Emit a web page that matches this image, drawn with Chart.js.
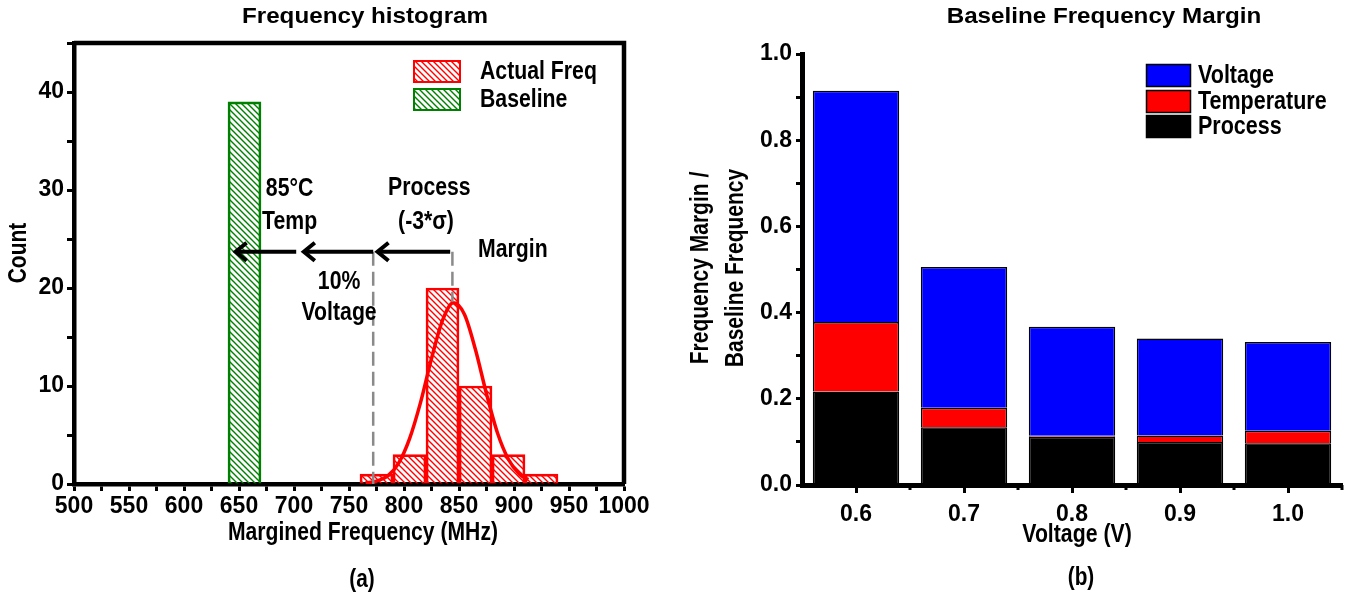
<!DOCTYPE html>
<html>
<head>
<meta charset="utf-8">
<title>Frequency margin</title>
<script src="https://cdn.jsdelivr.net/npm/chart.js@4.4.1/dist/chart.umd.min.js"></script>
<style>
  html, body { margin: 0; padding: 0; background: #fff; }
  #wrap { position: relative; width: 1351px; height: 601px; overflow: hidden; }
  canvas { position: absolute; top: 0; }
  #histo { left: 0; }
  #margin { left: 660px; }
</style>
</head>
<body>
<div id="wrap">
  <canvas id="histo" width="660" height="601"></canvas>
  <canvas id="margin" width="691" height="601"></canvas>
</div>
<script>
// ---- (a) frequency histogram ----
const binCenters = [775, 805, 835, 865, 895, 925];   // MHz, 30 MHz wide bins
const actualCounts = [1, 3, 20, 10, 3, 1];
const baselineCenters = [655];
const baselineCounts = [39];
// fitted curve
const fitFreq  = [765, 775, 785, 795, 805, 815, 825, 835, 845, 855, 865, 875, 885, 895, 905, 913];
const fitCount = [0.1, 0.3, 0.8, 2.1, 4.6, 8.3, 12.8, 16.7, 18.5, 17.3, 13.7, 9.2, 5.2, 2.5, 1.0, 0.45];
const freqTicks = [500, 525, 550, 575, 600, 625, 650, 675, 700, 725, 750, 775, 800, 825, 850, 875, 900, 925, 950, 975, 1000];
const countTicks = [0, 5, 10, 15, 20, 25, 30, 35, 40, 45];
// annotations (MHz / count)
const arrowLevel = 23.7;
const arrowFrom = [842, 772, 702];
const arrowTo = [775, 708, 646];
const dashFreq = [772, 844];
const dashBottom = [0, 18.6];
const notes = ['85°C', 'Temp', 'Process', '(-3*σ)', 'Margin', '10%', 'Voltage'];
const noteFreq = [696, 696, 823, 820, 899, 741, 741];
const noteCount = [30.1, 26.7, 30.2, 26.7, 23.9, 20.6, 17.4];

// ---- (b) baseline frequency margin ----
const voltages = ['0.6', '0.7', '0.8', '0.9', '1.0'];
const processMargin = [0.217, 0.134, 0.112, 0.100, 0.097];
const tempMargin = [0.161, 0.045, 0.002, 0.015, 0.029];
const voltageMargin = [0.537, 0.327, 0.253, 0.225, 0.206];
const marginTicks = [0, 0.1, 0.2, 0.3, 0.4, 0.5, 0.6, 0.7, 0.8, 0.9, 1.0];

const NARROW = "'Liberation Sans Narrow', 'Arial Narrow', sans-serif";
const tickFont = { family: NARROW, size: 23, weight: 'bold' };

function hatch(color) {
  const c = document.createElement('canvas');
  c.width = 6; c.height = 6;
  const g = c.getContext('2d');
  g.strokeStyle = color; g.lineWidth = 1.4;
  g.beginPath();
  g.moveTo(-1, -1); g.lineTo(7, 7);
  g.moveTo(-1, 5); g.lineTo(1, 7);
  g.moveTo(5, -1); g.lineTo(7, 1);
  g.stroke();
  return g.createPattern(c, 'repeat');
}
const redHatch = hatch('#ff0000');
const greenHatch = hatch('#008000');

// bold Arial-like text, squeezed/stretched horizontally by sx
function txt(ctx, s, x, y, size, sx, align = 'center', rot = 0) {
  ctx.save();
  ctx.translate(x, y);
  if (rot) ctx.rotate(rot);
  ctx.scale(sx, 1);
  ctx.font = `bold ${size}px 'Liberation Sans', Arial, sans-serif`;
  ctx.fillStyle = '#000';
  ctx.textAlign = align;
  ctx.textBaseline = 'middle';
  ctx.fillText(s, 0, 0);
  ctx.restore();
}

const histoDecor = {
  id: 'histoDecor',
  afterDatasetsDraw(chart) {
    const { ctx, scales: { x, y } } = chart;
    const ay = y.getPixelForValue(arrowLevel);
    ctx.save();
    ctx.strokeStyle = '#8a8a8a'; ctx.lineWidth = 2.5; ctx.setLineDash([14, 6]);
    dashFreq.forEach((f, i) => {
      const px = x.getPixelForValue(f);
      ctx.beginPath(); ctx.moveTo(px, ay); ctx.lineTo(px, y.getPixelForValue(dashBottom[i])); ctx.stroke();
    });
    ctx.setLineDash([]);
    ctx.strokeStyle = '#000'; ctx.lineWidth = 4;
    arrowFrom.forEach((f, i) => {
      const x0 = x.getPixelForValue(f), x1 = x.getPixelForValue(arrowTo[i]);
      ctx.beginPath(); ctx.moveTo(x0, ay); ctx.lineTo(x1 + 2, ay); ctx.stroke();
      ctx.beginPath(); ctx.moveTo(x1 + 12, ay - 9); ctx.lineTo(x1 + 1, ay); ctx.lineTo(x1 + 12, ay + 9); ctx.stroke();
    });
    notes.forEach((s, i) => txt(ctx, s, x.getPixelForValue(noteFreq[i]), y.getPixelForValue(noteCount[i]), 25, 0.85));
    ctx.restore();
  },
  afterDraw(chart) {
    const { ctx, chartArea: a } = chart;
    ctx.save();
    ctx.strokeStyle = '#000'; ctx.lineWidth = 4.5;
    ctx.beginPath(); ctx.moveTo(a.left, a.top); ctx.lineTo(a.right, a.top); ctx.lineTo(a.right, a.bottom); ctx.stroke();
    txt(ctx, 'Frequency histogram', 365, 17, 22, 1.1);
    txt(ctx, 'Count', 19, 253, 25, 0.84, 'center', -Math.PI / 2);
    txt(ctx, 'Margined Frequency (MHz)', 363, 533, 25, 0.845);
    txt(ctx, '(a)', 362, 580, 26, 0.8);
    [['Actual Freq', redHatch, '#ff0000', 60], ['Baseline', greenHatch, '#008000', 88]].forEach(([name, fill, col, top]) => {
      ctx.fillStyle = fill; ctx.fillRect(413, top, 48, 23);
      ctx.strokeStyle = col; ctx.lineWidth = 2; ctx.strokeRect(414, top + 1, 46, 21);
      txt(ctx, name, 480, top + 12, 25, 0.85, 'left');
    });
    ctx.restore();
  }
};

new Chart(document.getElementById('histo'), {
  type: 'bar',
  data: {
    datasets: [
      {
        type: 'line', label: 'fit', xAxisID: 'x', yAxisID: 'y', order: 0,
        data: fitFreq.map((f, i) => ({ x: f, y: fitCount[i] })),
        borderColor: '#ff0000', borderWidth: 3.5, pointRadius: 0, fill: false,
        cubicInterpolationMode: 'monotone'
      },
      {
        label: 'Actual Freq', xAxisID: 'xb', yAxisID: 'y', order: 1, grouped: false,
        data: binCenters.map((f, i) => ({ x: f, y: actualCounts[i] })),
        backgroundColor: redHatch, borderColor: '#ff0000', borderWidth: 2,
        categoryPercentage: 1, barPercentage: 1
      },
      {
        label: 'Baseline', xAxisID: 'xb', yAxisID: 'y', order: 1, grouped: false,
        data: baselineCenters.map((f, i) => ({ x: f, y: baselineCounts[i] })),
        backgroundColor: greenHatch, borderColor: '#008000', borderWidth: 2,
        categoryPercentage: 1, barPercentage: 1
      }
    ]
  },
  options: {
    responsive: false, animation: false, devicePixelRatio: 1,
    layout: { padding: { left: 0, top: 43, right: 36, bottom: 0 } },
    plugins: { legend: { display: false }, tooltip: { enabled: false } },
    scales: {
      x: {
        type: 'linear', position: 'bottom', min: 500, max: 1000, offset: false,
        afterBuildTicks: s => { s.ticks = freqTicks.map(v => ({ value: v })); },
        afterFit: s => { s.height = 117; },
        ticks: { autoSkip: false, maxRotation: 0, color: '#000', font: tickFont, padding: 2,
                 callback: v => (v % 50 === 0 ? String(v) : '') },
        grid: { offset: false, drawOnChartArea: false, tickLength: 7, tickWidth: 3, tickColor: '#000' },
        border: { display: true, color: '#000', width: 4.5 }
      },
      xb: {
        type: 'linear', display: false, min: 500, max: 1000, offset: false,
        afterBuildTicks: s => { s.ticks = [{ value: 500 }, { value: 1000 }]; }
      },
      y: {
        type: 'linear', min: 0, max: 45,
        afterBuildTicks: s => { s.ticks = countTicks.map(v => ({ value: v })); },
        afterFit: s => { s.width = 74; },
        ticks: { autoSkip: false, color: '#000', font: tickFont, padding: 3,
                 callback: v => (v % 10 === 0 ? String(v) : '') },
        grid: { drawOnChartArea: false, tickLength: 7, tickWidth: 3, tickColor: '#000' },
        border: { display: true, color: '#000', width: 4.5 }
      }
    }
  },
  plugins: [histoDecor]
});

const marginDecor = {
  id: 'marginDecor',
  afterDraw(chart) {
    const { ctx, chartArea: a, scales: { x } } = chart;
    ctx.save();
    // short ticks between the voltage groups
    const step = x.getPixelForValue(1) - x.getPixelForValue(0);
    ctx.strokeStyle = '#000'; ctx.lineWidth = 3;
    for (let i = 1; i <= voltages.length; i++) {
      const px = x.getPixelForValue(0) - step / 2 + i * step;
      ctx.beginPath(); ctx.moveTo(px, a.bottom); ctx.lineTo(px, a.bottom + 5); ctx.stroke();
    }
    txt(ctx, 'Baseline Frequency Margin', 444, 17, 22, 1.1);
    txt(ctx, 'Frequency Margin /', 41, 268, 25, 0.84, 'center', -Math.PI / 2);
    txt(ctx, 'Baseline Frequency', 76, 268, 25, 0.84, 'center', -Math.PI / 2);
    txt(ctx, 'Voltage (V)', 417, 535, 25, 0.85);
    txt(ctx, '(b)', 421, 578, 26, 0.8);
    [['Voltage', '#0000ff', 64], ['Temperature', '#ff0000', 90], ['Process', '#000000', 115]].forEach(([name, col, top]) => {
      ctx.fillStyle = col; ctx.fillRect(486, top, 45, 23);
      ctx.strokeStyle = '#000'; ctx.lineWidth = 1.5; ctx.strokeRect(486.5, top + 0.5, 44, 22);
      txt(ctx, name, 538, top + 12, 25, 0.86, 'left');
    });
    ctx.restore();
  }
};

new Chart(document.getElementById('margin'), {
  type: 'bar',
  data: {
    labels: voltages,
    datasets: [
      { label: 'Process', data: processMargin, backgroundColor: '#000000', borderColor: '#000', borderWidth: 1.5 },
      { label: 'Temperature', data: tempMargin, backgroundColor: '#ff0000', borderColor: '#000', borderWidth: 1.5 },
      { label: 'Voltage', data: voltageMargin, backgroundColor: '#0000ff', borderColor: '#000', borderWidth: 1.5 }
    ]
  },
  options: {
    responsive: false, animation: false, devicePixelRatio: 1,
    layout: { padding: { left: 0, top: 54, right: 9, bottom: 0 } },
    datasets: { bar: { categoryPercentage: 1, barPercentage: 0.8 } },
    plugins: { legend: { display: false }, tooltip: { enabled: false } },
    scales: {
      x: {
        stacked: true, offset: true,
        afterFit: s => { s.height = 116; },
        ticks: { color: '#000', font: tickFont, padding: 8, maxRotation: 0 },
        grid: { offset: false, drawOnChartArea: false, tickLength: 8, tickWidth: 3, tickColor: '#000' },
        border: { display: true, color: '#000', width: 5 }
      },
      y: {
        stacked: true, min: 0, max: 1,
        afterBuildTicks: s => { s.ticks = marginTicks.map(v => ({ value: v })); },
        afterFit: s => { s.width = 142; },
        ticks: { autoSkip: false, color: '#000', font: tickFont, padding: 4,
                 callback: (v, i) => (i % 2 === 0 ? v.toFixed(1) : '') },
        grid: { drawOnChartArea: false, tickLength: 6, tickWidth: 3, tickColor: '#000' },
        border: { display: true, color: '#000', width: 5 }
      }
    }
  },
  plugins: [marginDecor]
});
</script>
</body>
</html>
